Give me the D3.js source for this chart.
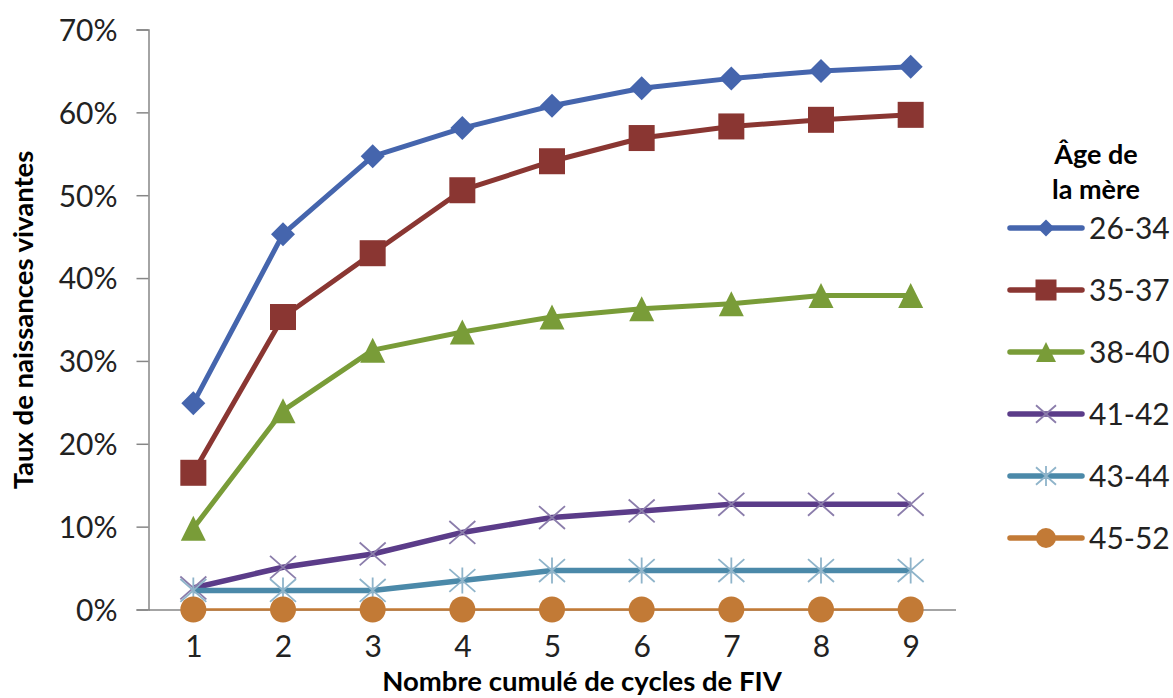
<!DOCTYPE html>
<html>
<head>
<meta charset="utf-8">
<script src="https://cdn.jsdelivr.net/npm/d3@7"></script>
<style>
  body { margin: 0; background: #fff; }
  svg { display: block; font-family: Lato, "Open Sans", sans-serif; }
</style>
</head>
<body>
<svg id="chart"></svg>
<script>
// data (percent)
const cycles = [1, 2, 3, 4, 5, 6, 7, 8, 9];
const ageGroups = ["26-34", "35-37", "38-40", "41-42", "43-44", "45-52"];
const rate2634 = [24.9, 45.3, 54.7, 58.1, 60.8, 62.9, 64.1, 65.0, 65.5];
const rate3537 = [16.5, 35.3, 43.0, 50.6, 54.1, 56.9, 58.3, 59.1, 59.7];
const rate3840 = [9.8, 24.0, 31.3, 33.5, 35.3, 36.3, 36.9, 37.9, 37.9];
const rate4142 = [2.6, 5.1, 6.7, 9.3, 11.1, 11.9, 12.7, 12.7, 12.7];
const rate4344 = [2.3, 2.3, 2.3, 3.5, 4.7, 4.7, 4.7, 4.7, 4.7];
const rate4552 = [0, 0, 0, 0, 0, 0, 0, 0, 0];
const yTicks = [0, 10, 20, 30, 40, 50, 60, 70];

const series = [
  { name: ageGroups[0], values: rate2634, color: "#4565ad", width: 5, marker: "diamond" },
  { name: ageGroups[1], values: rate3537, color: "#8a3632", width: 5, marker: "square" },
  { name: ageGroups[2], values: rate3840, color: "#799c38", width: 5, marker: "triangle" },
  { name: ageGroups[3], values: rate4142, color: "#5b3c89", width: 5.5, marker: "cross", mcolor: "#8b7dab" },
  { name: ageGroups[4], values: rate4344, color: "#4b89a9", width: 5.5, marker: "star", mcolor: "#8fb4ca" },
  { name: ageGroups[5], values: rate4552, color: "#c27a36", width: 2.5, marker: "circle" },
];

const W = 1173, H = 698;
const svg = d3.select("#chart").attr("width", W).attr("height", H);

const x = d3.scaleLinear().domain([0.5, 9.5]).range([148.5, 955.5]);
const y = d3.scaleLinear().domain([0, 70]).range([609.5, 29.5]);

// axes
const yAxis = svg.append("g")
  .attr("transform", `translate(${x(0.5)},0)`)
  .call(d3.axisLeft(y).tickValues(yTicks).tickSize(12).tickPadding(19).tickFormat(d => d + "%"));
yAxis.select(".domain").attr("stroke", "#868686").attr("stroke-width", 1.5);
yAxis.selectAll(".tick line").attr("stroke", "#868686").attr("stroke-width", 1.5);
yAxis.selectAll(".tick text")
  .attr("font-family", "Lato, sans-serif").attr("font-size", 30).attr("fill", "#222")
  .attr("dy", "0.36em");

const xAxis = svg.append("g")
  .attr("transform", `translate(0,${y(0)})`)
  .call(d3.axisBottom(x).tickValues(cycles).tickSize(0).tickPadding(26).tickFormat(d3.format("d")));
xAxis.select(".domain").attr("stroke", "#868686").attr("stroke-width", 1.5);
xAxis.selectAll(".tick text")
  .attr("font-family", "Lato, sans-serif").attr("font-size", 30).attr("fill", "#222");

// axis titles
svg.append("text")
  .attr("transform", `translate(33,320) rotate(-90)`)
  .attr("text-anchor", "middle")
  .attr("font-weight", "bold").attr("font-size", 27.5).attr("fill", "#000")
  .text("Taux de naissances vivantes");

svg.append("text")
  .attr("x", 582).attr("y", 691)
  .attr("text-anchor", "middle")
  .attr("font-weight", "bold").attr("font-size", 27.5).attr("fill", "#000")
  .text("Nombre cumulé de cycles de FIV");

// marker shapes, s = overall size
function drawMarker(g, type, cx, cy, s, color, mcolor) {
  const h = s / 2;
  if (type === "diamond") {
    g.append("path").attr("d", `M${cx},${cy - h}L${cx + h},${cy}L${cx},${cy + h}L${cx - h},${cy}Z`).attr("fill", color);
  } else if (type === "square") {
    g.append("rect").attr("x", cx - h).attr("y", cy - h).attr("width", s).attr("height", s).attr("fill", color);
  } else if (type === "triangle") {
    g.append("path").attr("d", `M${cx},${cy - h}L${cx + h},${cy + h}L${cx - h},${cy + h}Z`).attr("fill", color);
  } else if (type === "circle") {
    g.append("circle").attr("cx", cx).attr("cy", cy).attr("r", h).attr("fill", color);
  } else if (type === "cross" || type === "star") {
    const hy = h * 0.88;
    let d = `M${cx - h},${cy - hy}L${cx + h},${cy + hy}M${cx - h},${cy + hy}L${cx + h},${cy - hy}`;
    if (type === "star") d += `M${cx},${cy - h}L${cx},${cy + h}`;
    g.append("path").attr("d", d).attr("stroke", mcolor).attr("stroke-width", 1.8).attr("fill", "none");
  }
}

const markerSize = { diamond: 24, square: 26, triangle: 25, circle: 26, cross: 26, star: 26 };
const legendSize = { diamond: 17, square: 21, triangle: 20, circle: 20, cross: 20, star: 20 };

const line = d3.line().x((d, i) => x(cycles[i])).y(d => y(d));

const plot = svg.append("g");
series.forEach(s => {
  const g = plot.append("g");
  g.append("path")
    .attr("d", line(s.values))
    .attr("fill", "none")
    .attr("stroke", s.color)
    .attr("stroke-width", s.width)
    .attr("stroke-linejoin", "round");
  s.values.forEach((v, i) => drawMarker(g, s.marker, x(cycles[i]), y(v), markerSize[s.marker], s.color, s.mcolor));
});

// legend
const legend = svg.append("g");
legend.append("text")
  .attr("x", 1096).attr("y", 164)
  .attr("text-anchor", "middle").attr("font-weight", "bold").attr("font-size", 27).attr("fill", "#000")
  .text("Âge de");
legend.append("text")
  .attr("x", 1096).attr("y", 199)
  .attr("text-anchor", "middle").attr("font-weight", "bold").attr("font-size", 27).attr("fill", "#000")
  .text("la mère");

series.forEach((s, i) => {
  const ly = 228 + i * 62;
  const g = legend.append("g");
  g.append("line")
    .attr("x1", 1010).attr("x2", 1082).attr("y1", ly).attr("y2", ly)
    .attr("stroke", s.color).attr("stroke-width", 5.5).attr("stroke-linecap", "round");
  drawMarker(g, s.marker, 1046, ly, legendSize[s.marker], s.color, s.mcolor);
  g.append("text")
    .attr("x", 1089).attr("y", ly + 11)
    .attr("font-size", 30).attr("fill", "#222")
    .text(s.name);
});
</script>
</body>
</html>
